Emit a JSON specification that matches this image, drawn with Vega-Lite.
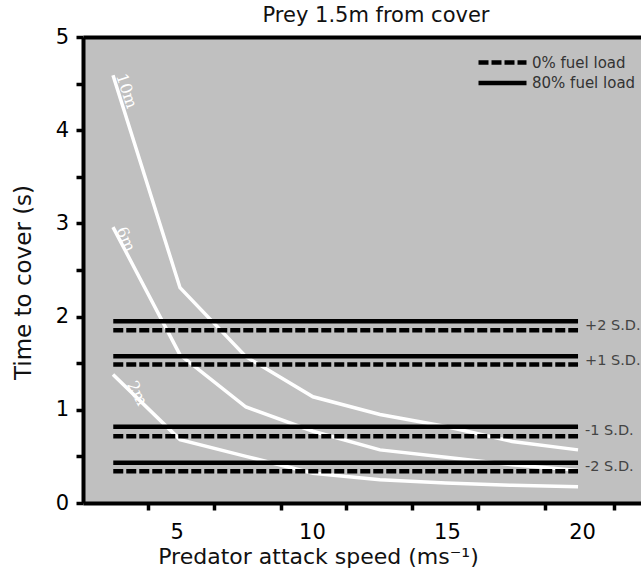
{
  "$schema": "https://vega.github.io/schema/vega-lite/v6.json",
  "width": 558,
  "height": 466,
  "autosize": {"type": "none"},
  "padding": {"left": 83, "top": 37, "right": 0, "bottom": 77},
  "background": "white",
  "config": {"view": {"fill": "#c0c0c0", "stroke": null}, "font": "DejaVu Sans"},
  "title": {"text": "Prey 1.5m from cover", "fontSize": 21, "fontWeight": "normal", "font": "DejaVu Sans", "color": "#111111", "anchor": "middle", "dx": 14, "offset": 0, "dy": 17, "baseline": "alphabetic"},
  "datasets": {
    "curves": [
      {"curve": "10m", "speed": 2.64, "time": 4.59},
      {"curve": "10m", "speed": 5.12, "time": 2.31},
      {"curve": "10m", "speed": 7.56, "time": 1.57},
      {"curve": "10m", "speed": 10.04, "time": 1.14},
      {"curve": "10m", "speed": 12.52, "time": 0.95},
      {"curve": "10m", "speed": 14.96, "time": 0.82},
      {"curve": "10m", "speed": 17.41, "time": 0.66},
      {"curve": "10m", "speed": 19.85, "time": 0.57},
      {"curve": "6m", "speed": 2.64, "time": 2.96},
      {"curve": "6m", "speed": 5.12, "time": 1.59},
      {"curve": "6m", "speed": 7.56, "time": 1.03},
      {"curve": "6m", "speed": 10.04, "time": 0.77},
      {"curve": "6m", "speed": 12.52, "time": 0.57},
      {"curve": "6m", "speed": 14.96, "time": 0.49},
      {"curve": "6m", "speed": 17.41, "time": 0.41},
      {"curve": "6m", "speed": 19.85, "time": 0.35},
      {"curve": "2m", "speed": 2.64, "time": 1.38},
      {"curve": "2m", "speed": 5.12, "time": 0.68},
      {"curve": "2m", "speed": 7.56, "time": 0.5},
      {"curve": "2m", "speed": 10.04, "time": 0.32},
      {"curve": "2m", "speed": 12.52, "time": 0.25},
      {"curve": "2m", "speed": 14.96, "time": 0.215},
      {"curve": "2m", "speed": 17.41, "time": 0.19},
      {"curve": "2m", "speed": 19.85, "time": 0.175}
    ],
    "labels": [
      {"curve": "10m", "speed": 2.68, "time": 4.576},
      {"curve": "6m", "speed": 2.68, "time": 2.924},
      {"curve": "2m", "speed": 3.08, "time": 1.261}
    ],
    "sd": [
      {"sd": "+2 S.D.", "load": "80% fuel load", "time": 1.951, "from": 2.65, "to": 19.85},
      {"sd": "+2 S.D.", "load": "0% fuel load", "time": 1.854, "from": 2.65, "to": 19.85},
      {"sd": "+1 S.D.", "load": "80% fuel load", "time": 1.575, "from": 2.65, "to": 19.85},
      {"sd": "+1 S.D.", "load": "0% fuel load", "time": 1.486, "from": 2.65, "to": 19.85},
      {"sd": "-1 S.D.", "load": "80% fuel load", "time": 0.818, "from": 2.65, "to": 19.85},
      {"sd": "-1 S.D.", "load": "0% fuel load", "time": 0.717, "from": 2.65, "to": 19.85},
      {"sd": "-2 S.D.", "load": "80% fuel load", "time": 0.431, "from": 2.65, "to": 19.85},
      {"sd": "-2 S.D.", "load": "0% fuel load", "time": 0.341, "from": 2.65, "to": 19.85}
    ]
  },
  "layer": [
    {
      "data": {"name": "curves"},
      "mark": {"type": "line", "color": "white", "strokeWidth": 3.5},
      "encoding": {
        "x": {"field": "speed", "type": "quantitative", "scale": {"domain": [1.53, 22.18], "nice": false, "zero": false},
          "axis": {"orient": "bottom", "values": [5, 10, 15, 20], "ticks": false, "tickSize": 0, "labelFontSize": 21, "labelColor": "black", "labelPadding": 18, "labelFlush": false, "labelOverlap": false, "domain": true, "domainColor": "black", "domainWidth": 4, "grid": false,
            "title": "Predator attack speed (ms⁻¹)", "titleFontSize": 22, "titleFontWeight": "normal", "titleColor": "#111111", "titleX": 235, "titleY": 60, "titleBaseline": "alphabetic", "titleAlign": "center"}},
        "y": {"field": "time", "type": "quantitative", "scale": {"domain": [0, 5], "nice": false, "zero": false},
          "axis": {"values": [0, 0.5, 1, 1.5, 2, 2.5, 3, 3.5, 4, 4.5, 5], "labelExpr": "datum.value % 1 === 0 ? format(datum.value, 'd') : ''", "tickSize": 7, "tickWidth": 3.5, "tickColor": "black", "domainColor": "black", "domainWidth": 4, "labelFontSize": 21, "labelPadding": 7.5, "labelColor": "black", "labelFlush": false, "labelOverlap": false, "grid": false,
            "title": "Time to cover (s)", "titleFontSize": 23, "titleFontWeight": "normal", "titleColor": "#111111", "titleX": -53, "titleY": 245, "titleAngle": -90, "titleBaseline": "alphabetic", "titleAlign": "center"}},
        "detail": {"field": "curve"}
      }
    },
    {
      "data": {"name": "labels"},
      "mark": {"type": "text", "font": "DejaVu Serif", "fontSize": 16, "color": "white", "align": "left", "baseline": "alphabetic", "dy": -2},
      "encoding": {
        "x": {"field": "speed", "type": "quantitative", "scale": {"domain": [1.53, 22.18], "nice": false, "zero": false},
          "axis": {"orient": "top", "labels": false, "ticks": false, "domain": true, "domainColor": "black", "domainWidth": 4, "grid": false, "title": null, "minExtent": 0, "maxExtent": 0}},
        "y": {"field": "time", "type": "quantitative", "scale": {"domain": [0, 5], "nice": false, "zero": false}},
        "text": {"field": "curve"},
        "angle": {"field": "curve", "type": "nominal", "scale": {"domain": ["10m", "6m", "2m"], "range": [71, 62, 44]}, "legend": null}
      }
    },
    {
      "data": {"name": "sd"},
      "mark": {"type": "rule", "strokeWidth": 4.5, "color": "black", "strokeCap": "butt"},
      "encoding": {
        "x": {"field": "from", "type": "quantitative", "scale": {"domain": [1.53, 22.18], "nice": false, "zero": false},
          "axis": {"orient": "bottom", "values": [3.93, 6.37, 8.84, 11.28, 13.7, 16.14, 18.64, 21.17], "labels": false, "domain": false, "ticks": true, "tickSize": 7, "tickWidth": 3.5, "tickColor": "black", "grid": false, "title": null}},
        "x2": {"field": "to"},
        "y": {"field": "time", "type": "quantitative", "scale": {"domain": [0, 5], "nice": false, "zero": false}},
        "strokeDash": {"field": "load", "type": "nominal", "scale": {"domain": ["0% fuel load", "80% fuel load"], "range": [[10, 3], [1, 0]]},
          "legend": {"title": null, "orient": "none", "legendX": 411, "legendY": 17, "symbolType": "M-4,0H4", "symbolSize": 144, "symbolStrokeWidth": 4.5, "symbolStrokeColor": "black", "labelFontSize": 15, "labelColor": "#333333", "labelFont": "DejaVu Sans", "labelOffset": 21, "rowPadding": 1.5, "padding": 0}}
      }
    },
    {
      "data": {"name": "sd"},
      "transform": [{"filter": "datum.load === '80% fuel load'"}],
      "mark": {"type": "text", "align": "left", "baseline": "middle", "dx": 7, "dy": 4.5, "fontSize": 14.5, "color": "#444444", "font": "DejaVu Sans"},
      "encoding": {
        "x": {"field": "to", "type": "quantitative", "scale": {"domain": [1.53, 22.18], "nice": false, "zero": false}, "axis": null},
        "y": {"field": "time", "type": "quantitative", "scale": {"domain": [0, 5], "nice": false, "zero": false}},
        "text": {"field": "sd"}
      }
    }
  ],
  "resolve": {"axis": {"x": "independent"}}
}
